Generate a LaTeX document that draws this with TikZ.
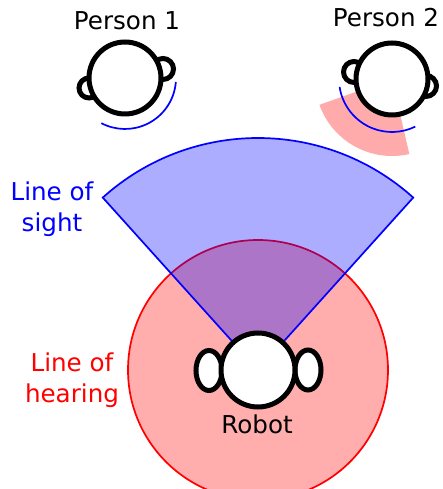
\documentclass[tikz,border=0pt]{standalone}
\usepackage{fontspec}
\setmainfont{DejaVu Sans}
\definecolor{redline}{HTML}{FF0000}
\definecolor{blueline}{HTML}{0000FF}
\tikzset{
  headline/.style={draw=black,line width=5pt,fill=white},
  lbl/.style={font=\fontsize{24.6}{31}\selectfont,inner sep=0pt,align=center},
  bluearc/.style={draw=blueline,line width=1.7pt},
}
\begin{document}
\begin{tikzpicture}[x=1pt,y=1pt]
\useasboundingbox (0,0) rectangle (442,489);
\clip (0,0) rectangle (442,489);
\coordinate (rob) at (258,119);
\coordinate (p1) at (125,411);
\coordinate (p2) at (392,410);
% person 2 red sector
\fill[redline,fill opacity=.33] (p2) -- ++(199.6:77) arc[start angle=199.6,end angle=283,radius=77] -- cycle;
% line of hearing
\path[fill=redline,fill opacity=.32,draw=redline,line width=1.7pt] (rob) circle[radius=130];
% line of sight
\path[fill=blueline,fill opacity=.32,draw=blueline,line width=1.7pt] (rob) -- ++(48:232) arc[start angle=48,end angle=132,radius=232] -- cycle;
% robot
\draw[headline] (209,118.5) ellipse[x radius=13,y radius=20];
\draw[headline] (308,119) ellipse[x radius=13,y radius=20];
\draw[headline] (rob) circle[radius=37];
% person 1
\draw[headline] (163,420) circle[radius=10.5];
\draw[headline] (89,401) circle[radius=10];
\draw[headline] (p1) circle[radius=36];
\draw[bluearc] (p1) ++(-4.4:51) arc[start angle=-4.4,end angle=-117.6,radius=51];
% person 2
\draw[headline] (354,417) circle[radius=10.5];
\draw[headline] (426,403) circle[radius=10.5];
\draw[headline] (p2) circle[radius=36];
\draw[bluearc] (p2) ++(188.6:53) arc[start angle=188.6,end angle=296,radius=53];
% labels
\node[lbl] (n1) at (127,468) {Person 1};
\node[lbl] (n2) at (386,471) {Person 2};
\node[lbl,text=blueline] (n3) at (52,279.5) {Line of\\sight};
\node[lbl,text=redline] (n4) at (72,109) {Line of\\hearing};
\node[lbl] (n5) at (257,65) {Robot};
\end{tikzpicture}
\end{document}
